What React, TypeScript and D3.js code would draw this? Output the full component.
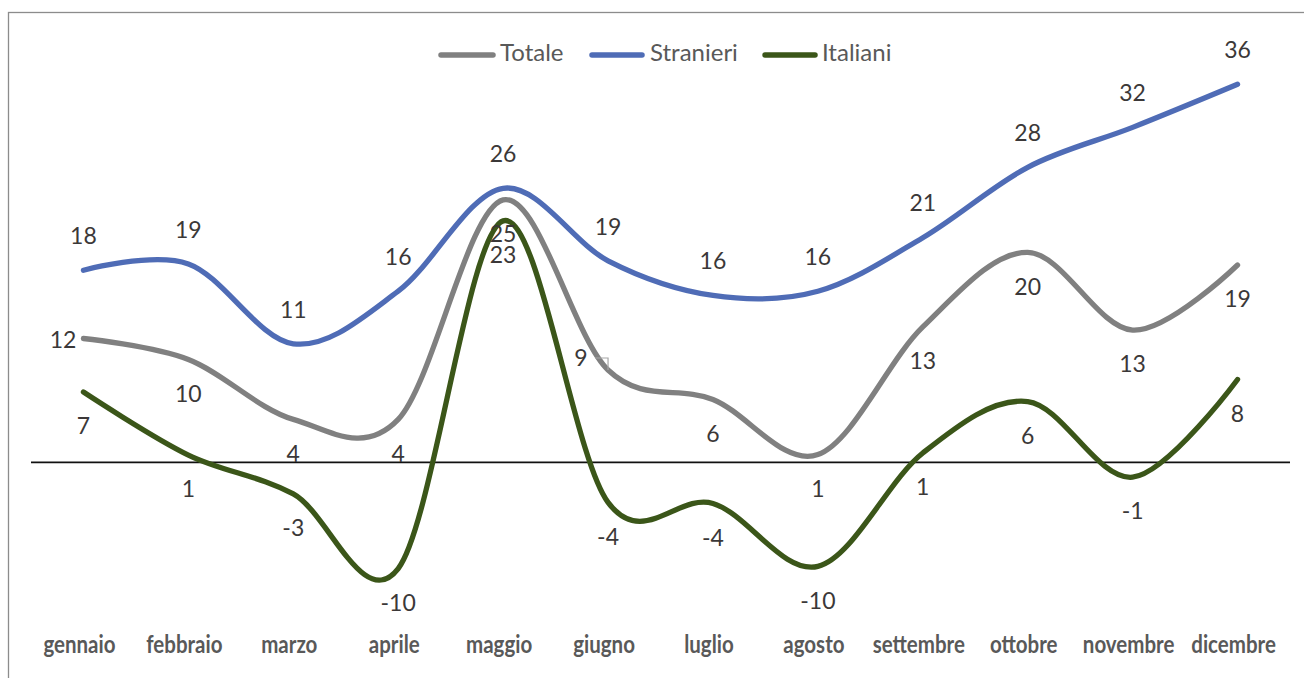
import React from "react";
import * as d3 from "d3";

const months = ["gennaio", "febbraio", "marzo", "aprile", "maggio", "giugno", "luglio", "agosto", "settembre", "ottobre", "novembre", "dicembre"];
const totale = [11.8, 9.8, 4.1, 4.1, 25.0, 8.8, 6.0, 0.75, 12.9, 20.0, 12.6, 18.8];
const stranieri = [18.3, 18.9, 11.3, 16.3, 26.1, 19.2, 15.9, 16.3, 21.4, 28.1, 31.9, 36.0];
const italiani = [6.7, 0.7, -3.0, -10.1, 23.0, -3.8, -3.9, -9.9, 0.9, 5.8, -1.4, 7.9];
const seriesNames = ["Totale", "Stranieri", "Italiani"];

const W = 1304;
const H = 678;

export default function App() {
  const x = d3.scaleBand<string>().domain(months).range([31, 1290]);
  const cx = (m: string) => (x(m) as number) + x.bandwidth() / 2;
  const y = d3.scaleLinear().domain([-15, 40]).range([620, 42.3]);

  const line = d3
    .line<number>()
    .x((_, i) => cx(months[i]))
    .y((d) => y(d))
    .curve(d3.curveCatmullRom.alpha(0));

  const series = [
    { name: seriesNames[0], values: totale, color: "#808080", pos: "below" },
    { name: seriesNames[1], values: stranieri, color: "#4f6cb6", pos: "above" },
    { name: seriesNames[2], values: italiani, color: "#3b5619", pos: "below" },
  ];

  const labelFont = 23;
  const labelColor = "#3b3838";
  const font = "Lato, 'Open Sans', sans-serif";

  const labels: { x: number; y: number; t: string; anchor: string }[] = [];
  let leader: string | null = null;
  series.forEach((s) => {
    s.values.forEach((v, i) => {
      const px = cx(months[i]);
      const py = y(v);
      const t = String(Math.round(v));
      let lx = px;
      let ly = s.pos === "above" ? py - 34.5 : py + 34;
      let anchor = "middle";
      if (s.name === "Totale" && i === 0) {
        lx = px - 7;
        ly = py + 1;
        anchor = "end";
      }
      if (s.name === "Totale" && i === 5) {
        lx = px - 27;
        ly = py - 12.5;
        leader = `M${px - 13},${py - 12} H${px} V${py}`;
      }
      labels.push({ x: lx, y: ly + 0.36 * labelFont, t, anchor });
    });
  });

  const legendItems = [
    { x1: 438, x2: 496, tx: 500 },
    { x1: 589, x2: 645, tx: 650 },
    { x1: 762, x2: 818, tx: 822 },
  ];

  return (
    <svg
      width={W}
      height={H}
      style={{ position: "absolute", left: 0, top: 0, background: "#fff" }}
    >
      <rect x={0} y={0} width={W} height={H} fill="#fff" />
      <rect x={8.5} y={12.5} width={1310} height={700} fill="none" stroke="#8c8c8c" strokeWidth={1.3} />

      {/* legend */}
      {series.map((s, i) => (
        <g key={s.name}>
          <line
            x1={legendItems[i].x1 + 3}
            x2={legendItems[i].x2 - 3}
            y1={55}
            y2={55}
            stroke={s.color}
            strokeWidth={5.5}
            strokeLinecap="round"
          />
          <text x={legendItems[i].tx} y={61} fontFamily={font} fontSize={24} fill="#595959">
            {s.name}
          </text>
        </g>
      ))}

      {/* zero axis line */}
      <line x1={31} x2={1290} y1={y(0)} y2={y(0)} stroke="#111" strokeWidth={1.8} />

      {/* series */}
      {series.map((s) => (
        <path
          key={s.name}
          d={line(s.values) as string}
          fill="none"
          stroke={s.color}
          strokeWidth={5.3}
          strokeLinecap="round"
          strokeLinejoin="round"
        />
      ))}

      {leader && <path d={leader} fill="none" stroke="#a6a6a6" strokeWidth={1.2} />}

      {/* data labels */}
      {labels.map((l, i) => (
        <text
          key={i}
          x={l.x}
          y={l.y}
          textAnchor={l.anchor as any}
          fontFamily={font}
          fontSize={labelFont}
          fill={labelColor}
        >
          {l.t}
        </text>
      ))}

      {/* category labels */}
      {months.map((m) => (
        <text
          key={m}
          transform={`translate(${cx(m) - 4},653) scale(0.82,1)`}
          textAnchor="middle"
          fontFamily={font}
          fontWeight={700}
          fontSize={25}
          fill="#595959"
        >
          {m}
        </text>
      ))}
    </svg>
  );
}
